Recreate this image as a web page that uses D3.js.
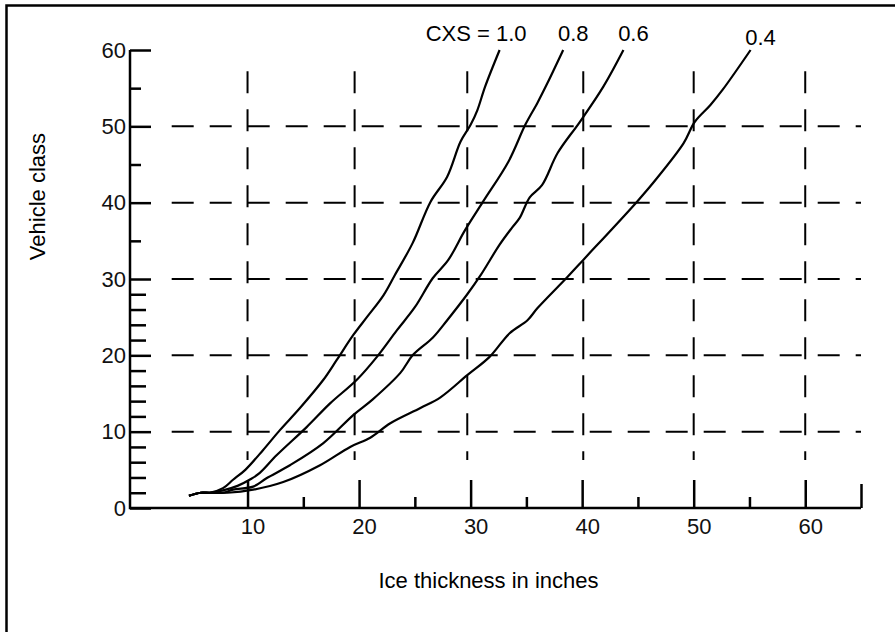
<!DOCTYPE html>
<html>
<head>
<meta charset="utf-8">
<script src="https://cdn.jsdelivr.net/npm/d3@7"></script>
<style>
  body { margin: 0; background: #fff; }
  svg { display: block; font-family: "Liberation Sans", Arial, sans-serif; }
  .tick text { font-size: 22px; fill: #111; }
</style>
</head>
<body>
<div id="container"></div>
<script>
const width = 895;
const height = 632;

// curves: [ice thickness, vehicle class]
const cxs10 = [[4.75, 1.6], [5.8, 2.0], [6.6, 2.0], [7.8, 2.6], [8.7, 3.7], [9.8, 5.0], [11.4, 7.6], [12.9, 10.2],
  [14.7, 13.1], [16.8, 16.8], [18.0, 19.4], [19.5, 22.7], [20.7, 25.0], [22.2, 27.9], [23.2, 30.5], [24.8, 34.7],
  [26.4, 40.1], [27.9, 43.4], [29.1, 48.0], [30.0, 50.2], [30.6, 52.1], [31.3, 55.2], [32.6, 60.0]];
const cxs08 = [[4.75, 1.6], [5.8, 2.0], [6.6, 2.0], [7.8, 2.3], [9.1, 2.9], [10.3, 3.8], [11.1, 4.6], [12.6, 6.9],
  [15.3, 10.6], [17.4, 13.7], [19.8, 16.8], [21.6, 19.8], [23.4, 23.3], [25.0, 26.3], [26.6, 30.1], [28.0, 32.5],
  [29.5, 36.4], [31.1, 40.1], [33.4, 45.4], [34.9, 50.2], [36.0, 53.1], [36.9, 55.7], [38.3, 60.0]];
const cxs06 = [[4.75, 1.6], [5.8, 2.0], [6.6, 2.0], [7.8, 2.0], [8.7, 2.4], [10.5, 2.8], [11.7, 3.9], [13.8, 5.6],
  [16.8, 8.5], [19.5, 12.2], [21.2, 14.2], [23.7, 17.7], [24.8, 20.0], [26.6, 22.3], [27.9, 24.6], [29.7, 28.0],
  [30.9, 30.5], [32.6, 34.5], [33.7, 36.7], [34.4, 38.0], [35.3, 40.7], [36.4, 42.3], [37.8, 46.5], [39.8, 50.6],
  [41.9, 55.2], [43.7, 60.0]];
const cxs04 = [[4.75, 1.6], [5.8, 2.0], [6.6, 2.0], [8.2, 2.0], [10.5, 2.4], [13.2, 3.4], [16.5, 5.6], [19.2, 8.0],
  [21.0, 9.2], [22.8, 11.1], [25.5, 13.1], [27.3, 14.5], [29.7, 17.4], [31.7, 19.8], [33.5, 22.9], [35.1, 24.6],
  [36.0, 26.2], [38.7, 30.3], [40.1, 32.5], [44.9, 40.1], [46.7, 43.2], [49.1, 47.8], [50.1, 50.6], [51.5, 52.8],
  [52.6, 54.8], [55.1, 60.0]];
const curveLabels = ['CXS = 1.0', '0.8', '0.6', '0.4'];

const xMajor = [10, 20, 30, 40, 50, 60];
const xMinor = [15, 25, 35, 45, 55];
const xEnd = [65];
const yMajor = [0, 10, 20, 30, 40, 50, 60];
const yMinorFine = [2, 4, 6, 8, 12, 14, 16, 18, 22, 24, 26, 28];
const yMinorCoarse = [35, 45, 55];
// dashed grid, as drawn (slightly off the ticks)
const gridX = [10, 19.6, 29.7, 40.1, 50, 60];
const gridY = [10, 20, 30, 40, 50];

const xTitle = 'Ice thickness in inches';
const yTitle = 'Vehicle class';

const x = d3.scaleLinear().domain([0, 65]).range([136, 861]);
const y = d3.scaleLinear().domain([0, 60]).range([508, 50]);

const svg = d3.select('#container').append('svg')
  .attr('width', width)
  .attr('height', height);

// frame (only top and left edges show)
svg.append('path')
  .attr('d', 'M6.5,' + height + 'V5.5H' + width)
  .attr('fill', 'none')
  .attr('stroke', '#000')
  .attr('stroke-width', 2.5);

// dashed grid
const grid = svg.append('g')
  .attr('stroke', '#000')
  .attr('stroke-width', 2)
  .attr('stroke-dasharray', '22,16');

grid.selectAll('line.gy')
  .data(gridY)
  .enter()
  .append('line')
  .attr('class', 'gy')
  .attr('x1', x(3.2))
  .attr('x2', x(65))
  .attr('y1', (d) => y(d))
  .attr('y2', (d) => y(d));

grid.selectAll('line.gx')
  .data(gridX)
  .enter()
  .append('line')
  .attr('class', 'gx')
  .attr('x1', (d) => x(d))
  .attr('x2', (d) => x(d))
  .attr('y1', y(57.2))
  .attr('y2', y(6.3));

// axes
const yAxisX = x(0) - 6;

const yAxisMajor = svg.append('g')
  .attr('transform', 'translate(' + yAxisX + ',0)')
  .call(d3.axisLeft(y).tickValues(yMajor).tickSizeInner(-21).tickSizeOuter(0).tickPadding(4));
const yAxisFine = svg.append('g')
  .attr('transform', 'translate(' + yAxisX + ',0)')
  .call(d3.axisLeft(y).tickValues(yMinorFine).tickFormat('').tickSizeInner(-16).tickSizeOuter(0));
const yAxisCoarse = svg.append('g')
  .attr('transform', 'translate(' + yAxisX + ',0)')
  .call(d3.axisLeft(y).tickValues(yMinorCoarse).tickFormat('').tickSizeInner(-11).tickSizeOuter(0));

const xAxisMajor = svg.append('g')
  .attr('transform', 'translate(0,' + y(0) + ')')
  .call(d3.axisBottom(x).tickValues(xMajor).tickSizeInner(-28).tickSizeOuter(0).tickPadding(10));
const xAxisMinor = svg.append('g')
  .attr('transform', 'translate(0,' + y(0) + ')')
  .call(d3.axisBottom(x).tickValues(xMinor).tickFormat('').tickSizeInner(-11).tickSizeOuter(0));
const xAxisEnd = svg.append('g')
  .attr('transform', 'translate(0,' + y(0) + ')')
  .call(d3.axisBottom(x).tickValues(xEnd).tickFormat('').tickSizeInner(-24).tickSizeOuter(0));

[yAxisMajor, yAxisFine, yAxisCoarse, xAxisMajor, xAxisMinor, xAxisEnd].forEach((g) => {
  g.select('.domain').remove();
  g.selectAll('.tick line').attr('stroke', '#000').attr('stroke-width', 2.5);
});
xAxisMajor.selectAll('.tick text').attr('dx', 5);

// axis lines
svg.append('path')
  .attr('d', 'M' + yAxisX + ',' + y(60) + 'V' + y(0) + 'H' + x(65))
  .attr('fill', 'none')
  .attr('stroke', '#000')
  .attr('stroke-width', 2.5);

// titles
svg.append('text')
  .attr('x', (x(0) + x(65)) / 2 - 10)
  .attr('y', 588)
  .attr('text-anchor', 'middle')
  .style('font-size', '22px')
  .text(xTitle);

svg.append('text')
  .attr('transform', 'translate(45,' + y(40.8) + ') rotate(-90)')
  .attr('text-anchor', 'middle')
  .style('font-size', '22px')
  .text(yTitle);

// curves
const series = [cxs10, cxs08, cxs06, cxs04];
const line = d3.line()
  .x((d) => x(d[0]))
  .y((d) => y(d[1]))
  .curve(d3.curveCatmullRom.alpha(0.5));

svg.append('g')
  .selectAll('path')
  .data(series)
  .enter()
  .append('path')
  .attr('d', line)
  .attr('fill', 'none')
  .attr('stroke', '#000')
  .attr('stroke-width', 2.2);

svg.append('g')
  .selectAll('text')
  .data(series)
  .enter()
  .append('text')
  .attr('x', (d, i) => x(d[d.length - 1][0]) + (i === 0 ? 27 : 10))
  .attr('y', (d, i) => y(d[d.length - 1][1]) - (i === 3 ? 5 : 9))
  .attr('text-anchor', (d, i) => (i === 0 ? 'end' : 'middle'))
  .style('font-size', '22px')
  .text((d, i) => curveLabels[i]);
</script>
</body>
</html>
